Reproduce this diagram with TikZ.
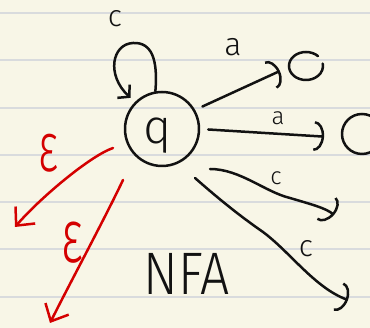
\documentclass[tikz,border=0pt]{standalone}
\usepackage{fontspec}
\setmainfont{Fira Sans}[UprightFont=* Light]
\usetikzlibrary{arrows.meta,calc}
\definecolor{paper}{HTML}{F8F6E7}
\definecolor{ruling}{HTML}{D9DBDD}
\definecolor{ink}{HTML}{121212}
\definecolor{redink}{HTML}{D40000}
\newcommand\fsz[1]{\fontsize{#1}{#1}\selectfont}
\begin{document}
\begin{tikzpicture}[x=1pt,y=1pt,
  pen/.style={line width=2.5pt, draw=ink, line cap=round, line join=round},
  redpen/.style={pen, draw=redink},
  blacktip/.style={-{Arc Barb[length=10pt,width=30pt]}},
  looptip/.style={-{Straight Barb[length=8pt,width=18pt]}},
  redtip/.style={-{Straight Barb[length=14pt,width=26pt]}},
  lab/.style={inner sep=0pt, text=ink},
  redlab/.style={inner sep=0pt, text=redink, xscale=0.62},
  state/.style={circle, pen, minimum size=74pt, inner sep=0pt},
  ghost/.style={circle, minimum size=30pt, inner sep=0pt}]
\fill[paper] (0,0) rectangle (370,328);
\useasboundingbox (0,0) rectangle (370,328);
\clip (0,0) rectangle (370,328);
\foreach \yy in {315,268,220,173,126,79,31} \draw[ruling, line width=1.6pt] (0,\yy) -- (370,\yy);

\node[state] (q) at (162,199) {};
\node[lab, font=\fsz{48}] (qtext) at (158,192) {q};
\node[ghost] (s1) at (306,262) {};
\draw[pen] ($(s1)+(12,9.9)$) arc[start angle=45,end angle=370,x radius=17,y radius=14];
\node[state, minimum size=40pt] (s2) at (362,194) {};

\coordinate (c1s) at ($(q)+(48,-40)$);
\coordinate (c1e) at (334,113);
\coordinate (c2s) at ($(q)+(33,-49)$);
\coordinate (c2e) at (348,28);
\coordinate (e1s) at ($(q)+(-49,-19)$);
\coordinate (e1e) at (15,101);
\coordinate (e2s) at ($(q)+(-39,-51)$);
\coordinate (e2e) at (50,5);

\draw[pen, looptip, shorten >=6pt] (q.100) .. controls (158,268) and (152,286) .. (133,285) .. controls (112,284) and (106,253) .. (q.135);
\draw[pen, blacktip, shorten <=8pt, shorten >=12pt] (q.30) -- (s1.west);
\draw[pen, blacktip, shorten <=8pt, shorten >=17pt] (q.east) -- (s2.190);
\draw[pen, blacktip] (c1s) .. controls (240,159) and (265,136) .. (290,130) .. controls (310,124) and (326,120) .. (c1e);
\draw[pen, blacktip] (c2s) .. controls (220,128) and (240,112) .. (263,96) .. controls (290,76) and (315,40) .. (c2e);
\draw[redpen, redtip] (e1s) .. controls (90,172) and (40,130) .. (e1e);
\draw[redpen, redtip] (e2s) .. controls (105,110) and (70,45) .. (e2e);

\node[lab, font=\fsz{30}] (lloop) at (115,309) {c};
\node[lab, font=\fsz{32}] (la1) at (233,281) {a};
\node[lab, font=\fsz{24}] (la2) at (278,210) {a};
\node[lab, font=\fsz{24}] (lc1) at (276,150) {c};
\node[lab, font=\fsz{30}] (lc2) at (306,79) {c};
\node[redlab, font=\fsz{70}] (le1) at (48,175) {ε};
\node[redlab, font=\fsz{76}] (le2) at (72,85) {ε};
\node[lab, font=\fsz{60}, xscale=0.86] (nfa) at (187,54) {NFA};
\end{tikzpicture}
\end{document}
